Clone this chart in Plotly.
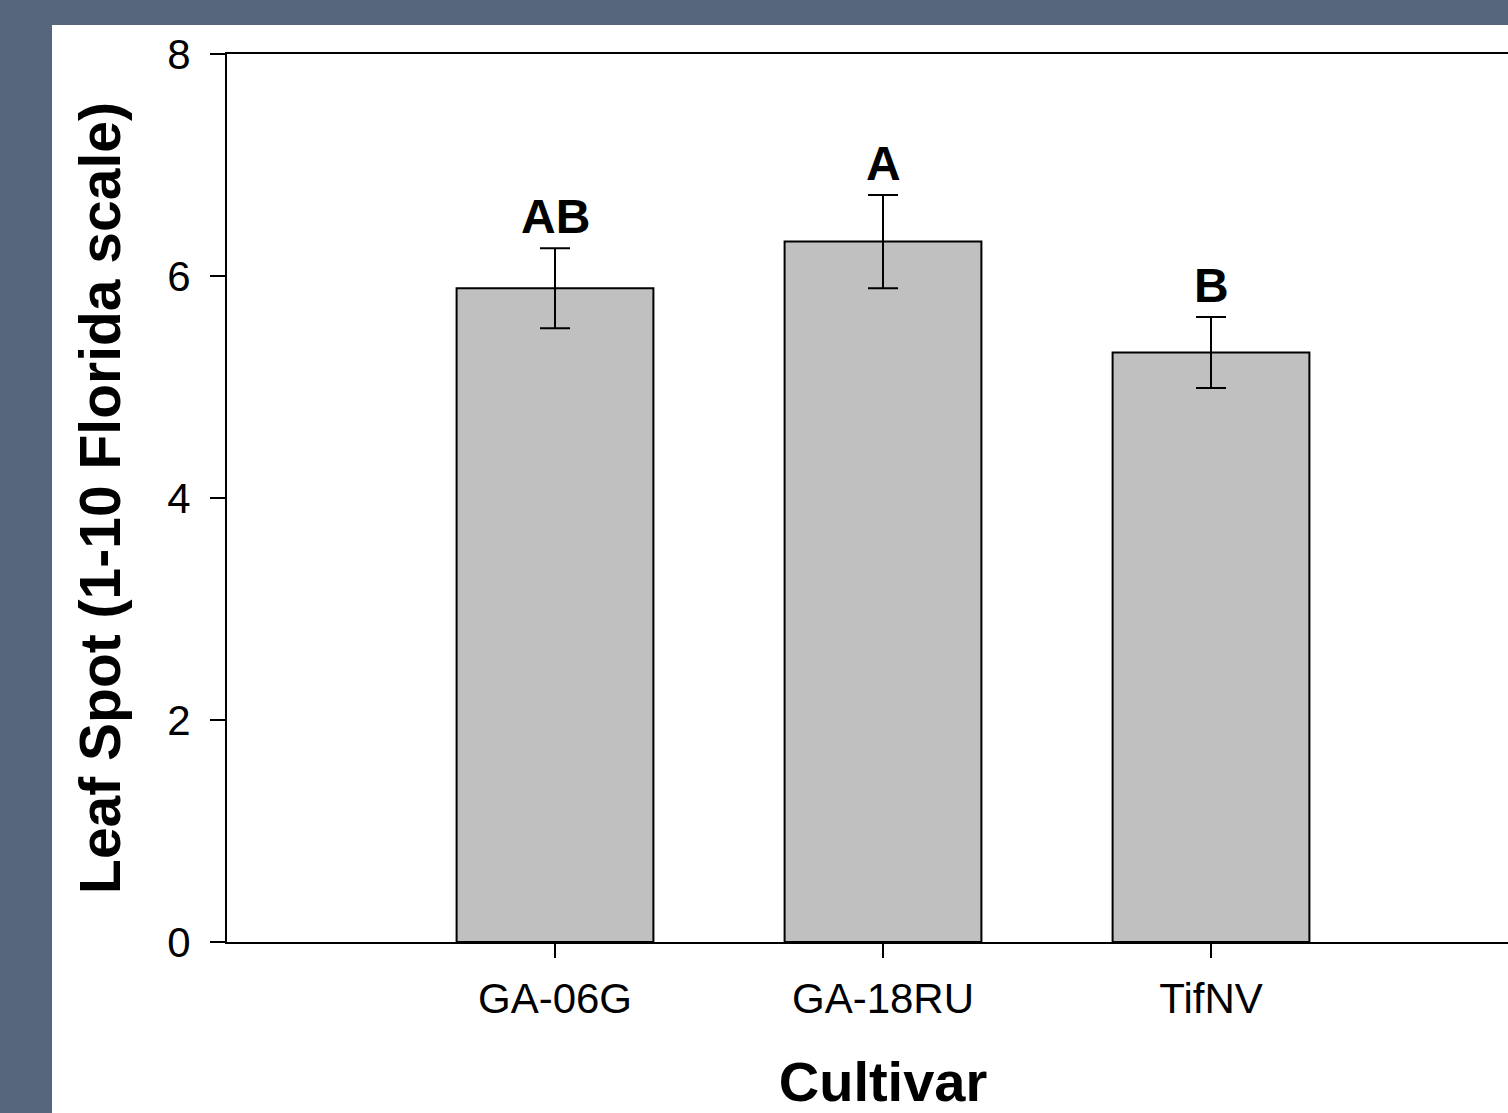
import plotly.graph_objects as go

cultivars = ["GA-06G", "GA-18RU", "TifNV"]
leaf_spot = [5.89, 6.31, 5.31]
std_err = [0.36, 0.42, 0.32]
letters = ["AB", "A", "B"]
y_ticks = [0, 2, 4, 6, 8]

VIEW_W, H = 1508, 1113
FONT = "Liberation Sans, Arial, sans-serif"
FRAME = "rgb(86,103,125)"

ml, mr, mt, mb = 227, 0, 54, 171
W = ml + 4 * 328 + mr  # plot area spans x range [-1, 3]; page crops at 1508
pw = W - ml - mr
ph = H - mt - mb

xpos = list(range(len(cultivars)))

fig = go.Figure()
fig.add_trace(go.Bar(
    x=xpos, y=leaf_spot, width=0.6,
    marker=dict(color="#c0c0c0", line=dict(color="black", width=2)),
    error_y=dict(type="data", array=std_err, visible=True,
                 color="black", thickness=2, width=15),
    showlegend=False,
))

for xi, v, e, t in zip(xpos, leaf_spot, std_err, letters):
    fig.add_annotation(x=xi, y=v + e, text=f"<b>{t}</b>", showarrow=False,
                       yanchor="bottom", yshift=3,
                       font=dict(family=FONT, size=48, color="black"))

# white panel over dark frame
fig.add_shape(type="rect", xref="paper", yref="paper", layer="below",
              x0=(52 - ml) / pw, x1=1.0 + 5 / pw,
              y0=-(mb + 10) / ph, y1=1 + (mt - 25) / ph,
              fillcolor="white", line=dict(width=0))

fig.update_layout(
    width=W, height=H,
    margin=dict(l=ml, r=mr, t=mt, b=mb, autoexpand=False),
    paper_bgcolor=FRAME, plot_bgcolor="white",
    font=dict(family=FONT, color="black"),
    bargap=0.4,
)
fig.update_xaxes(
    automargin=False,
    range=[-1, 3],
    tickvals=xpos, ticktext=cultivars,
    showline=True, linecolor="black", linewidth=2, mirror=True,
    ticks="outside", ticklen=14, tickwidth=2, tickcolor="black",
    tickfont=dict(size=42, family=FONT), ticklabelstandoff=5,
    showgrid=False, zeroline=False,
    title=dict(text="<b>Cultivar</b>", font=dict(size=56, family=FONT), standoff=59),
)
fig.update_yaxes(
    automargin=False,
    range=[0, 8], tickvals=y_ticks,
    showline=True, linecolor="black", linewidth=2,
    ticks="outside", ticklen=15, tickwidth=2, tickcolor="black",
    tickfont=dict(size=42, family=FONT), ticklabelstandoff=11,
    showgrid=False, zeroline=False,
    title=dict(text="<b>Leaf Spot (1-10 Florida scale)</b>", font=dict(size=57, family=FONT), standoff=28),
)

fig.write_html("out.html", config={"displayModeBar": False},
               post_script="document.body.style.margin='0';document.body.style.overflow='hidden';")
